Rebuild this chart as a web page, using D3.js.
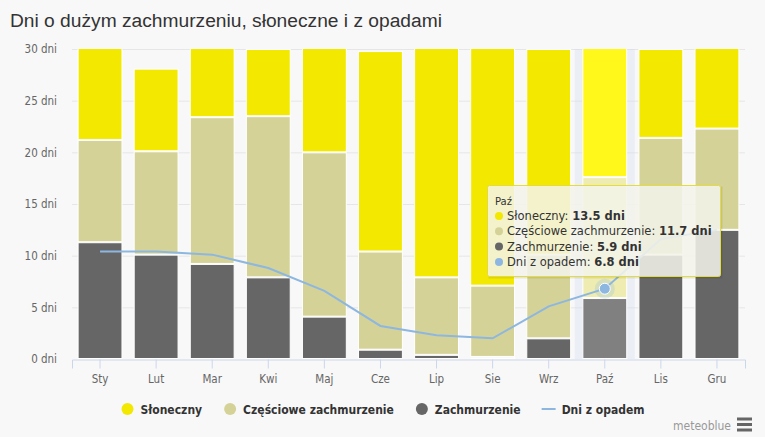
<!DOCTYPE html>
<html>
<head>
<meta charset="utf-8">
<script src="https://cdn.jsdelivr.net/npm/d3@7"></script>
<style>
  body { margin: 0; background: #f8f8f8; }
  svg { display: block; font-family: "DejaVu Sans", sans-serif; }
</style>
</head>
<body>
<div class="chart-container"></div>
<script>
var months = ['Sty', 'Lut', 'Mar', 'Kwi', 'Maj', 'Cze', 'Lip', 'Sie', 'Wrz', 'Paź', 'Lis', 'Gru'];
var zachmurzenie = [11.3, 10.1, 9.2, 7.9, 4.1, 0.9, 0.4, 0.2, 2.0, 5.9, 10.1, 12.5];
var czesciowe = [9.9, 10.0, 14.2, 15.6, 15.9, 9.5, 7.5, 6.9, 8.1, 11.7, 11.3, 9.8];
var sloneczny = [9.8, 8.0, 7.6, 6.5, 11.0, 19.4, 23.1, 23.9, 19.9, 13.5, 8.6, 8.7];
var opady = [10.4, 10.4, 10.1, 8.8, 6.6, 3.2, 2.3, 2.0, 5.1, 6.8, 11.6, 12.5];
var yTicks = [0, 5, 10, 15, 20, 25, 30];
var hovered = 'Paź';

var width = 765, height = 437;
var margin = {top: 49, right: 20, bottom: 78, left: 72};

var series = [
  {key: 'zach', name: 'Zachmurzenie', color: '#666666', hover: '#808080'},
  {key: 'czes', name: 'Częściowe zachmurzenie', color: '#d5d297', hover: '#efecb1'},
  {key: 'slon', name: 'Słoneczny', color: '#f2e800', hover: '#fff81a'}
];

var rows = months.map((m, i) => ({
  month: m, zach: zachmurzenie[i], czes: czesciowe[i], slon: sloneczny[i], opady: opady[i]
}));

var svg = d3.select('.chart-container').append('svg')
  .attr('width', width)
  .attr('height', height);

svg.append('rect').attr('width', width).attr('height', height).attr('fill', '#f8f8f8');

svg.append('text')
  .attr('x', 10).attr('y', 27)
  .style('font-family', '"Liberation Sans", Arial, sans-serif')
  .style('font-size', '19.2px')
  .style('fill', '#333')
  .text('Dni o dużym zachmurzeniu, słoneczne i z opadami');

var x = d3.scaleBand()
  .domain(months)
  .range([margin.left, width - margin.right])
  .paddingInner(0.2)
  .paddingOuter(0.1);

var y = d3.scaleLinear()
  .domain([0, 30])
  .range([height - margin.bottom, margin.top]);

// grid
svg.append('g')
  .selectAll('line')
  .data(yTicks.slice(1))
  .enter().append('line')
    .attr('x1', margin.left).attr('x2', width - margin.right)
    .attr('y1', d => y(d) + 0.5).attr('y2', d => y(d) + 0.5)
    .style('stroke', '#e6e6e6');

// crosshair band
svg.append('rect')
  .attr('x', x(hovered) - x.step() * x.paddingInner() / 2 - 2)
  .attr('y', margin.top)
  .attr('width', x.step() + 4)
  .attr('height', y(0) - margin.top)
  .style('fill', 'rgba(204,214,235,0.3)');

var yAxis = d3.axisLeft(y).tickValues(yTicks).tickSize(0).tickPadding(15)
  .tickFormat(d => d + ' dni');
var gY = svg.append('g')
  .attr('transform', `translate(${margin.left},0)`)
  .call(yAxis);
gY.select('.domain').remove();
gY.selectAll('text')
  .style('font-family', '"DejaVu Sans Condensed", "Liberation Sans Narrow", sans-serif')
  .style('font-size', '11.5px')
  .style('fill', '#666');

svg.append('clipPath').attr('id', 'plot-clip')
  .append('rect')
  .attr('x', margin.left).attr('y', margin.top)
  .attr('width', width - margin.left - margin.right)
  .attr('height', y(0) - margin.top);

var stack = d3.stack().keys(series.map(s => s.key));
var stacked = stack(rows);

svg.append('g')
  .attr('clip-path', 'url(#plot-clip)')
  .selectAll('g')
  .data(stacked)
  .enter().append('g')
  .each(function(layer, li) {
    d3.select(this).selectAll('rect')
      .data(layer)
      .enter().append('rect')
        .attr('x', d => x(d.data.month) + 0.5)
        .attr('width', x.bandwidth() - 1)
        .attr('y', d => y(d[1]) + 0.5)
        .attr('height', d => Math.max(0, y(d[0]) - y(d[1]) - 1))
        .style('fill', d => d.data.month === hovered ? series[li].hover : series[li].color)
        .style('stroke', '#ffffff')
        .style('stroke-width', 1);
  });

var xAxis = d3.axisBottom(x).tickSize(9).tickPadding(6);
var gX = svg.append('g')
  .attr('transform', `translate(0, ${y(0) + 0.5})`)
  .call(xAxis);
gX.select('.domain').style('stroke', '#ccd6eb');
gX.selectAll('.tick line').style('stroke', '#ccd6eb');
gX.selectAll('text')
  .style('font-family', '"DejaVu Sans Condensed", "Liberation Sans Narrow", sans-serif')
  .style('font-size', '11.5px')
  .style('fill', '#666');

var line = d3.line()
  .x(d => x(d.month) + x.bandwidth() / 2)
  .y(d => y(d.opady));

svg.append('path')
  .datum(rows)
  .attr('d', line)
  .style('fill', 'none')
  .style('stroke', '#8db7e0')
  .style('stroke-width', 2);

var hp = rows[months.indexOf(hovered)];
svg.append('circle')
  .attr('cx', x(hovered) + x.bandwidth() / 2)
  .attr('cy', y(hp.opady))
  .attr('r', 10)
  .style('fill', '#8db7e0')
  .style('opacity', 0.25);
svg.append('circle')
  .attr('cx', x(hovered) + x.bandwidth() / 2)
  .attr('cy', y(hp.opady))
  .attr('r', 5.5)
  .style('fill', '#8db7e0')
  .style('stroke', '#fff')
  .style('stroke-width', 1);

// tooltip
var tip = svg.append('g').attr('transform', 'translate(487,185)');
tip.append('rect')
  .attr('x', 1.5).attr('y', 1.5).attr('width', 234).attr('height', 92)
  .style('fill', 'rgba(0,0,0,0.08)');
tip.append('rect')
  .attr('x', 0.5).attr('y', 0.5).attr('width', 233).attr('height', 91)
  .attr('rx', 2)
  .style('fill', 'rgba(247,247,237,0.85)')
  .style('stroke', '#e4dc3a')
  .style('stroke-width', 1);
tip.append('text')
  .attr('x', 8).attr('y', 20)
  .style('font-size', '10px').style('fill', '#333')
  .text(hovered);
var tipRows = [
  {color: '#f2e800', name: 'Słoneczny', value: hp.slon},
  {color: '#d5d297', name: 'Częściowe zachmurzenie', value: hp.czes},
  {color: '#666666', name: 'Zachmurzenie', value: hp.zach},
  {color: '#8db7e0', name: 'Dni z opadem', value: hp.opady}
];
tipRows.forEach((r, i) => {
  var ty = 35 + i * 15.3;
  tip.append('circle').attr('cx', 12).attr('cy', ty - 4).attr('r', 4).style('fill', r.color);
  var t = tip.append('text').attr('x', 20).attr('y', ty)
    .style('font-size', '11.5px').style('fill', '#333');
  t.append('tspan').text(r.name + ': ');
  t.append('tspan').style('font-weight', 'bold').text(d3.format('.1f')(r.value) + ' dni');
});

// legend
var legendItems = [
  {name: 'Słoneczny', color: '#f2e800', type: 'circle'},
  {name: 'Częściowe zachmurzenie', color: '#d5d297', type: 'circle'},
  {name: 'Zachmurzenie', color: '#666666', type: 'circle'},
  {name: 'Dni z opadem', color: '#8db7e0', type: 'line'}
];
var legend = svg.append('g');
var lx = 0;
legendItems.forEach(item => {
  var g = legend.append('g').attr('transform', `translate(${lx},0)`);
  if (item.type === 'circle') {
    g.append('circle').attr('cx', 7).attr('cy', 0).attr('r', 6).style('fill', item.color);
  } else {
    g.append('line').attr('x1', 0).attr('x2', 14).attr('y1', 0).attr('y2', 0)
      .style('stroke', item.color).style('stroke-width', 2);
  }
  var t = g.append('text').attr('x', 20).attr('y', 4.5)
    .style('font-family', '"DejaVu Sans Condensed", "Liberation Sans Narrow", sans-serif')
    .style('font-size', '12px').style('font-weight', 'bold').style('fill', '#333')
    .text(item.name);
  lx += 20 + t.node().getComputedTextLength() + 21;
});
var legendWidth = lx - 21;
legend.attr('transform', `translate(${(width - legendWidth) / 2},409)`);

svg.append('text')
  .attr('x', 731).attr('y', 430)
  .attr('text-anchor', 'end')
  .style('font-family', '"DejaVu Sans Condensed", "Liberation Sans Narrow", sans-serif')
  .style('font-size', '12px').style('fill', '#999')
  .text('meteoblue');
[419, 424.5, 430].forEach(yy => {
  svg.append('rect').attr('x', 737).attr('y', yy - 1.5).attr('width', 15).attr('height', 3)
    .style('fill', '#666');
});
</script>
</body>
</html>
